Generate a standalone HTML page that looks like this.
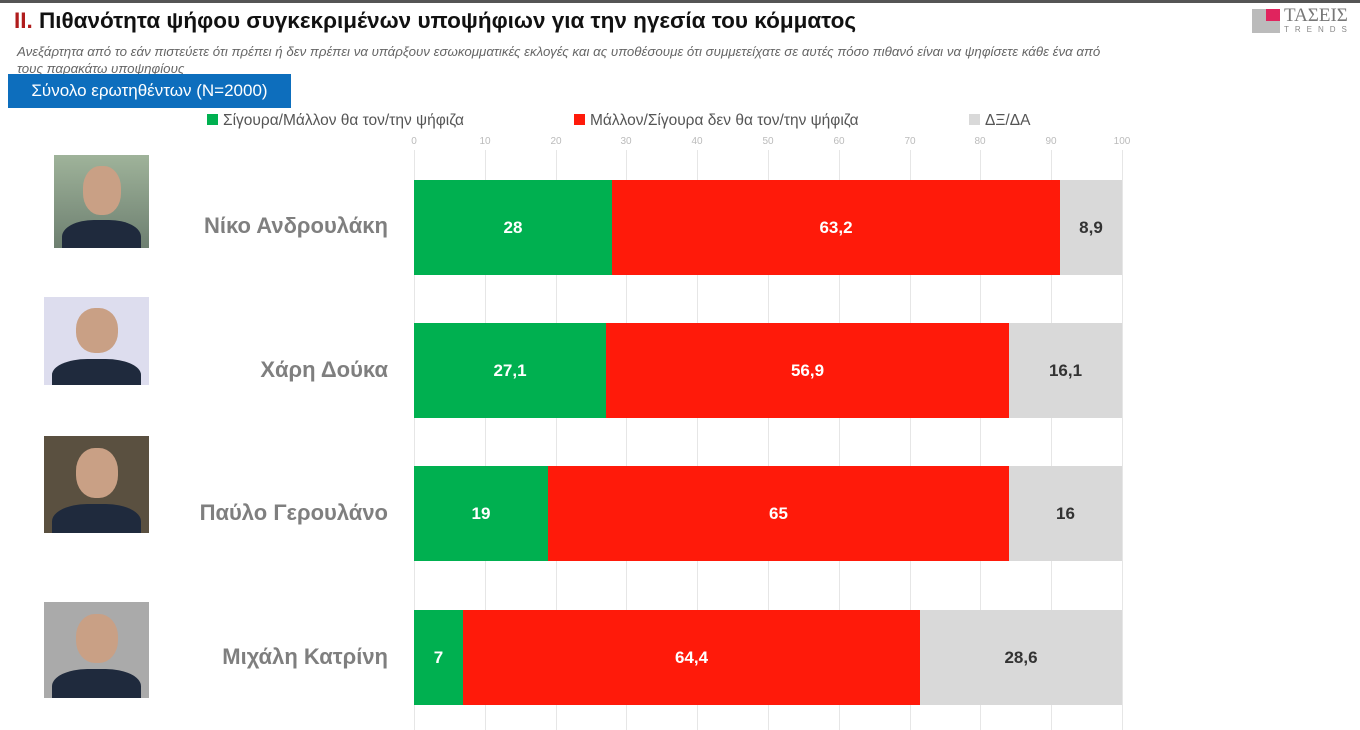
<!DOCTYPE html>
<html><head><meta charset="utf-8"><style>
body{margin:0;width:1360px;height:730px;background:#fff;position:relative;overflow:hidden;font-family:"Liberation Sans","DejaVu Sans",sans-serif}
.a{position:absolute}
.t{left:14px;top:8px;font-size:22.5px;font-weight:bold;color:#111;white-space:nowrap}
.s{left:17px;top:43px;font-size:13.3px;font-style:italic;color:#666;line-height:17px;white-space:nowrap}
.box{left:8px;top:74px;width:283px;height:34px;background:#0d6ebd;color:#fff;font-size:17px;line-height:34px;text-align:center}
.lg{top:112px;font-size:15.5px;color:#555;white-space:nowrap}
.lg i{display:inline-block;width:11px;height:11px;margin-right:5px;vertical-align:0px}
.tk{top:136px;font-size:10px;color:#bbb;width:30px;margin-left:-15px;text-align:center}
.gl{top:150px;width:1px;height:580px;background:#e6e6e6}
.bar{height:95px;color:#fff;font-weight:bold;font-size:17px;display:flex;align-items:center;justify-content:center}
.nm{right:972px;font-size:22px;font-weight:bold;color:#7f7f7f;white-space:nowrap}
.ph{background:linear-gradient(#9fb39a,#6d7f70);overflow:hidden}
.ph .h{position:absolute;left:30%;top:12%;width:40%;height:52%;border-radius:45%;background:#c9a085}
.ph .b{position:absolute;left:8%;top:70%;width:84%;height:45%;border-radius:40% 40% 0 0;background:#1f2a3d}
</style></head><body>
<div class="a" style="left:0;top:0;width:1360px;height:3px;background:#555"></div>
<div class="a t"><span style="color:#b01c1c">II.</span> Πιθανότητα ψήφου συγκεκριμένων υποψήφιων για την ηγεσία του κόμματος</div>
<div class="a" style="left:1252px;top:9px;width:28px;height:24px;background:#bbb"></div>
<div class="a" style="left:1266px;top:9px;width:14px;height:12px;background:#e0245e"></div>
<div class="a" style="left:1284px;top:5px;font-family:'Liberation Serif',serif;font-size:19px;color:#777">ΤΑΣΕΙΣ</div>
<div class="a" style="left:1284px;top:25px;font-size:8px;letter-spacing:6px;color:#888">TRENDS</div>
<div class="a s">Ανεξάρτητα από το εάν πιστεύετε ότι πρέπει ή δεν πρέπει να υπάρξουν εσωκομματικές εκλογές και ας υποθέσουμε ότι συμμετείχατε σε αυτές πόσο πιθανό είναι να ψηφίσετε κάθε ένα από<br>τους παρακάτω υποψηφίους</div>
<div class="a box">Σύνολο ερωτηθέντων (N=2000)</div>
<div class="a lg" style="left:207px"><i style="background:#00b050"></i>Σίγουρα/Μάλλον θα τον/την ψήφιζα</div>
<div class="a lg" style="left:574px"><i style="background:#ff1a0a"></i>Μάλλον/Σίγουρα δεν θα τον/την ψήφιζα</div>
<div class="a lg" style="left:969px"><i style="background:#d9d9d9"></i>ΔΞ/ΔΑ</div>

<div class="a tk" style="left:414px">0</div><div class="a tk" style="left:485px">10</div><div class="a tk" style="left:556px">20</div><div class="a tk" style="left:626px">30</div><div class="a tk" style="left:697px">40</div><div class="a tk" style="left:768px">50</div><div class="a tk" style="left:839px">60</div><div class="a tk" style="left:910px">70</div><div class="a tk" style="left:980px">80</div><div class="a tk" style="left:1051px">90</div><div class="a tk" style="left:1122px">100</div>
<div class="a gl" style="left:414px"></div><div class="a gl" style="left:485px"></div><div class="a gl" style="left:556px"></div><div class="a gl" style="left:626px"></div><div class="a gl" style="left:697px"></div><div class="a gl" style="left:768px"></div><div class="a gl" style="left:839px"></div><div class="a gl" style="left:910px"></div><div class="a gl" style="left:980px"></div><div class="a gl" style="left:1051px"></div><div class="a gl" style="left:1122px"></div>

<div class="a ph" style="left:54px;top:155px;width:95px;height:93px"><div class="h"></div><div class="b"></div></div>
<div class="a ph" style="left:44px;top:297px;width:105px;height:88px;background:#dde"><div class="h"></div><div class="b"></div></div>
<div class="a ph" style="left:44px;top:436px;width:105px;height:97px;background:#5a5040"><div class="h"></div><div class="b"></div></div>
<div class="a ph" style="left:44px;top:602px;width:105px;height:96px;background:#aaa"><div class="h"></div><div class="b"></div></div>

<div class="a nm" style="top:213px">Νίκο Ανδρουλάκη</div>
<div class="a nm" style="top:357px">Χάρη Δούκα</div>
<div class="a nm" style="top:500px">Παύλο Γερουλάνο</div>
<div class="a nm" style="top:644px">Μιχάλη Κατρίνη</div>

<div class="a" style="left:414px;top:180px;display:flex">
<div class="bar" style="width:198px;background:#00b050">28</div><div class="bar" style="width:448px;background:#ff1a0a">63,2</div><div class="bar" style="width:62px;background:#d9d9d9;color:#333">8,9</div></div>
<div class="a" style="left:414px;top:323px;display:flex">
<div class="bar" style="width:192px;background:#00b050">27,1</div><div class="bar" style="width:403px;background:#ff1a0a">56,9</div><div class="bar" style="width:113px;background:#d9d9d9;color:#333">16,1</div></div>
<div class="a" style="left:414px;top:466px;display:flex">
<div class="bar" style="width:134px;background:#00b050">19</div><div class="bar" style="width:461px;background:#ff1a0a">65</div><div class="bar" style="width:113px;background:#d9d9d9;color:#333">16</div></div>
<div class="a" style="left:414px;top:610px;display:flex">
<div class="bar" style="width:49px;background:#00b050">7</div><div class="bar" style="width:457px;background:#ff1a0a">64,4</div><div class="bar" style="width:202px;background:#d9d9d9;color:#333">28,6</div></div>
</body></html>
